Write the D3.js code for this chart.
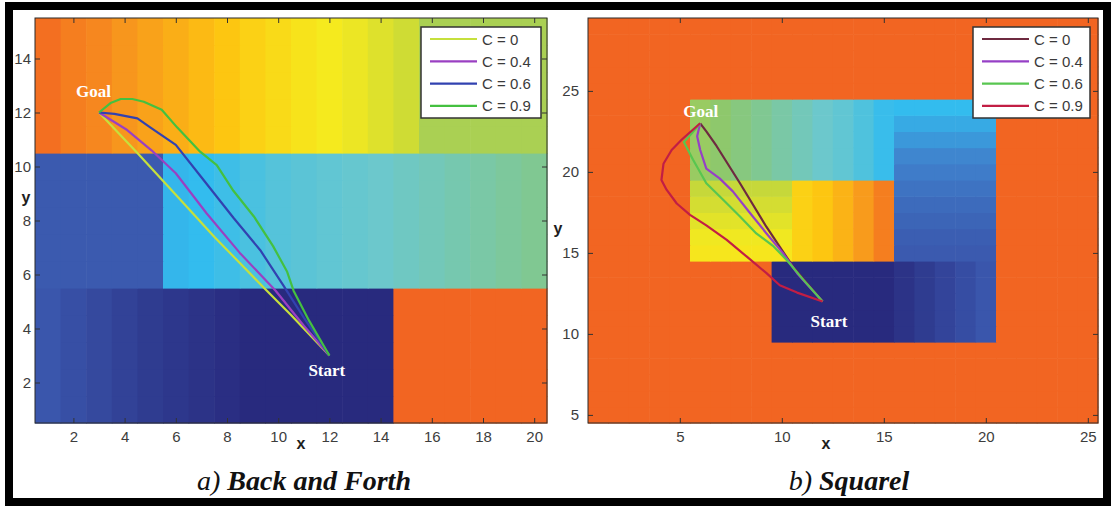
<!DOCTYPE html>
<html>
<head>
<meta charset="utf-8">
<script src="https://cdn.jsdelivr.net/npm/d3@7"></script>
<style>
  body { margin: 0; background: #fff; }
  svg { display: block; }
</style>
</head>
<body>
<svg id="fig" width="1112" height="510"></svg>
<script>
// Colour ramp of the cost maps, low (navy) to high (orange)
const rampStops = ["#282a7e", "#3a56ac", "#4080cc", "#33bcee", "#6cc8cc", "#8ec86c",
                   "#c6d83a", "#f5ea1e", "#fdc611", "#f7961d", "#f26522"];

// ---- a) Back and Forth map: 20 columns x 15 rows in three bands ----
const bfColumns = d3.range(1, 21);
const bfRows = d3.range(1, 16);
const bfUpper  = [0.98, 0.95, 0.93, 0.90, 0.875, 0.85, 0.825, 0.80, 0.77, 0.745,
                  0.72, 0.70, 0.68, 0.65, 0.62, 0.55, 0.55, 0.55, 0.55, 0.55];   // rows 11-15
const bfMiddle = [0.11, 0.11, 0.11, 0.11, 0.11, 0.29, 0.30, 0.32, 0.34, 0.36,
                  0.37, 0.38, 0.39, 0.40, 0.41, 0.42, 0.43, 0.44, 0.45, 0.46];   // rows 6-10
const bfLower  = [0.10, 0.085, 0.07, 0.055, 0.04, 0.03, 0.02, 0.01, 0, 0,
                  0, 0, 0, 0, 1, 1, 1, 1, 1, 1];                                 // rows 1-5

// paths from Start (12,3) to Goal (3,12) for each C
const bfC0  = [[3,12],[4.5,10.5],[6,8.95],[7.5,7.4],[9.45,5.5],[10.5,4.5],[11.5,3.5],[12,3]];
const bfC04 = [[3,12],[4.1,11.35],[5.05,10.6],[6,9.75],[7.2,8.27],[8.5,6.8],[9.9,5.4],[11,4.1],[12,3]];
const bfC06 = [[3,12],[3.6,11.95],[4.5,11.78],[5,11.45],[6,10.8],[7,9.6],[8.25,8.1],[9.3,6.9],[10.2,5.6],[11,4.4],[12,3]];
const bfC09 = [[3,12],[3.45,12.35],[3.85,12.5],[4.3,12.5],[4.75,12.4],[5.45,12.1],[6.05,11.45],[6.95,10.55],
               [7.6,10.05],[8.25,9.1],[9.05,8.15],[9.8,7.05],[10.35,6.1],[10.6,5.4],[11.2,4.3],[12,3]];

// ---- b) Squarel map: 25 columns x rows 5-29 ----
const sqColumns = d3.range(1, 26);
const sqRows = d3.range(5, 30);
const sqOuter  = 1;
const sqTop    = [0.52, 0.50, 0.48, 0.46, 0.44, 0.42, 0.40, 0.38, 0.35, 0.31];          // rows 20-24, cols 6-15
const sqColumn = [0.11, 0.12, 0.135, 0.15, 0.17, 0.19, 0.21, 0.24, 0.27, 0.30];         // cols 16-20, rows 15-24
const sqBottom = [0, 0, 0, 0, 0, 0, 0.02, 0.04, 0.06, 0.08, 0.10];                     // rows 10-14, cols 10-20
const sqYellow = [0.71, 0.69, 0.66, 0.63, 0.60];                                        // cols 6-10, rows 15-19
const sqAmber  = [0.77, 0.80, 0.84, 0.89, 0.95];                                        // cols 11-15, rows 15-19

// paths from Start (12,12) to Goal (6,23) for each C
const sqC0  = [[6,23],[6.3,22.5],[6.8,21.6],[7.95,19.3],[9.25,16.6],[10.55,14.15],[12,12]];
const sqC04 = [[6,23],[5.85,22.2],[6,21.35],[6.3,20.2],[6.95,19.6],[7.6,18.8],[8.45,17.45],[9.25,16.2],[10.05,15],[10.75,13.75],[12,12]];
const sqC06 = [[6,23],[5.6,22.4],[5.2,21.85],[5.65,20.75],[6.3,19.3],[7.15,18.25],[7.95,17.25],[8.75,16.2],[9.6,15.4],[10.25,14.55],[11.05,13.35],[12,12]];
const sqC09 = [[6,23],[5.1,22],[4.6,21.35],[4.2,20.5],[4.1,19.5],[4.35,18.9],[4.85,18.05],[5.5,17.35],[6.3,16.7],
               [7.3,15.8],[8.3,14.75],[9.25,13.75],[9.9,13],[10.75,12.55],[12,12]];

const legendLabels = ["C = 0", "C = 0.4", "C = 0.6", "C = 0.9"];
const bfTicksX = [2, 4, 6, 8, 10, 12, 14, 16, 18, 20];
const bfTicksY = [2, 4, 6, 8, 10, 12, 14];
const sqTicksX = [5, 10, 15, 20, 25];
const sqTicksY = [5, 10, 15, 20, 25];

// ---- cell tables ----
const bfCells = [];
bfRows.forEach(r => bfColumns.forEach((c, i) => {
  const v = r >= 11 ? bfUpper[i] : r >= 6 ? bfMiddle[i] : bfLower[i];
  bfCells.push({ x: c, y: r, v });
}));

const sqCells = [];
sqRows.forEach(r => sqColumns.forEach(c => {
  let v = sqOuter;
  if (r >= 10 && r <= 14 && c >= 10 && c <= 20) v = sqBottom[c - 10];
  if (r >= 15 && r <= 24 && c >= 16 && c <= 20) v = sqColumn[r - 15];
  if (r >= 20 && r <= 24 && c >= 6 && c <= 15) v = sqTop[c - 6];
  if (r >= 15 && r <= 19 && c >= 6 && c <= 10) v = sqYellow[r - 15];
  if (r >= 15 && r <= 19 && c >= 11 && c <= 15) v = sqAmber[c - 11];
  sqCells.push({ x: c, y: r, v });
}));

const ramp = d3.scaleLinear()
  .domain(rampStops.map((_, i) => i / (rampStops.length - 1)))
  .range(rampStops)
  .interpolate(d3.interpolateRgb);

const svg = d3.select("#fig");
const sans = "'Liberation Sans', Arial, sans-serif";
const serif = "'Liberation Serif', 'Times New Roman', serif";

function drawPanel(cfg) {
  const g = svg.append("g");
  const x = d3.scaleLinear().domain(cfg.xDomain).range([cfg.left, cfg.right]);
  const y = d3.scaleLinear().domain(cfg.yDomain).range([cfg.bottom, cfg.top]);

  // cost map cells
  g.append("g").selectAll("rect").data(cfg.cells).join("rect")
    .attr("x", d => x(d.x - 0.5))
    .attr("y", d => y(d.y + 0.5))
    .attr("width", d => x(d.x + 0.5) - x(d.x - 0.5) + 0.6)
    .attr("height", d => y(d.y - 0.5) - y(d.y + 0.5) + 0.6)
    .attr("fill", d => ramp(d.v));

  // clip trajectories to the axes box
  const clipId = "clip-" + cfg.id;
  svg.append("clipPath").attr("id", clipId).append("rect")
    .attr("x", cfg.left).attr("y", cfg.top)
    .attr("width", cfg.right - cfg.left).attr("height", cfg.bottom - cfg.top);

  const line = d3.line().x(d => x(d[0])).y(d => y(d[1]));
  g.append("g").attr("clip-path", `url(#${clipId})`)
    .selectAll("path").data(cfg.series).join("path")
    .attr("d", d => line(d.points))
    .attr("fill", "none")
    .attr("stroke", d => d.color)
    .attr("stroke-width", 2.2)
    .attr("stroke-linejoin", "round");

  // Goal / Start labels
  cfg.marks.forEach(m => {
    g.append("text")
      .attr("x", x(m.at[0]) + m.dx).attr("y", y(m.at[1]) + m.dy)
      .attr("font-family", serif).attr("font-weight", "bold")
      .attr("font-size", 17).attr("fill", "#ffffff")
      .text(m.text);
  });

  // axes with inward ticks on all four sides
  const tl = 5;
  const styleAxis = sel => {
    sel.select(".domain").remove();
    sel.selectAll(".tick line").attr("stroke", "#333");
    sel.selectAll(".tick text").attr("font-family", sans).attr("font-size", 15).attr("fill", "#3d3d3d");
  };
  g.append("g").attr("transform", `translate(0,${cfg.bottom})`)
    .call(d3.axisBottom(x).tickValues(cfg.xTicks).tickSizeInner(-tl).tickSizeOuter(0).tickPadding(8))
    .call(styleAxis);
  g.append("g").attr("transform", `translate(0,${cfg.top})`)
    .call(d3.axisTop(x).tickValues(cfg.xTicks).tickSizeInner(-tl).tickSizeOuter(0).tickFormat(""))
    .call(styleAxis);
  g.append("g").attr("transform", `translate(${cfg.left},0)`)
    .call(d3.axisLeft(y).tickValues(cfg.yTicks).tickSizeInner(-tl).tickSizeOuter(0).tickPadding(cfg.yPad))
    .call(styleAxis);
  g.append("g").attr("transform", `translate(${cfg.right},0)`)
    .call(d3.axisRight(y).tickValues(cfg.yTicks).tickSizeInner(-tl).tickSizeOuter(0).tickFormat(""))
    .call(styleAxis);

  g.append("rect")
    .attr("x", cfg.left).attr("y", cfg.top)
    .attr("width", cfg.right - cfg.left).attr("height", cfg.bottom - cfg.top)
    .attr("fill", "none").attr("stroke", "#2a2a2a").attr("stroke-width", 1);

  // axis titles
  g.append("text").attr("x", cfg.xLabel[0]).attr("y", cfg.xLabel[1])
    .attr("text-anchor", "middle").attr("font-family", sans).attr("font-weight", "bold")
    .attr("font-size", 16).attr("fill", "#1e1e1e").text("x");
  g.append("text").attr("x", cfg.yLabel[0]).attr("y", cfg.yLabel[1])
    .attr("text-anchor", "middle").attr("font-family", sans).attr("font-weight", "bold")
    .attr("font-size", 16).attr("fill", "#1e1e1e").text("y");

  // legend
  const lg = g.append("g").attr("transform", `translate(${cfg.legend[0]},${cfg.legend[1]})`);
  lg.append("rect").attr("width", cfg.legend[2]).attr("height", 91)
    .attr("fill", "#fff").attr("stroke", "#333").attr("stroke-width", 1.5);
  cfg.series.forEach((s, i) => {
    const ly = 12 + i * 22.3;
    lg.append("line").attr("x1", 9).attr("x2", 56).attr("y1", ly).attr("y2", ly)
      .attr("stroke", s.color).attr("stroke-width", 2.2);
    lg.append("text").attr("x", 61).attr("y", ly + 5.5)
      .attr("font-family", sans).attr("font-size", 15).attr("fill", "#3a3a3a")
      .text(legendLabels[i]);
  });

  // caption
  const cap = svg.append("text").attr("x", cfg.caption[0]).attr("y", cfg.caption[1])
    .attr("text-anchor", "middle").attr("font-family", serif).attr("font-style", "italic")
    .attr("font-size", 28).attr("fill", "#111");
  cap.append("tspan").text(cfg.caption[2] + " ");
  cap.append("tspan").attr("font-weight", "bold").text(cfg.caption[3]);
}

drawPanel({
  id: "bf", left: 35, right: 547, top: 18, bottom: 423,
  xDomain: [0.5, 20.5], yDomain: [0.5, 15.5],
  xTicks: bfTicksX, yTicks: bfTicksY, yPad: 4,
  cells: bfCells,
  series: [
    { points: bfC0,  color: "#c6e03c" },
    { points: bfC04, color: "#9a40c2" },
    { points: bfC06, color: "#3242b0" },
    { points: bfC09, color: "#44c040" }
  ],
  marks: [
    { text: "Goal",  at: [3, 12], dx: -23, dy: -16 },
    { text: "Start", at: [12, 3], dx: -21, dy: 20 }
  ],
  legend: [421, 27, 120],
  xLabel: [301, 449], yLabel: [26, 203],
  caption: [304, 490, "a)", "Back and Forth"]
});

drawPanel({
  id: "sq", left: 588, right: 1098, top: 18, bottom: 423,
  xDomain: [0.5, 25.5], yDomain: [4.5, 29.5],
  xTicks: sqTicksX, yTicks: sqTicksY, yPad: 9,
  cells: sqCells,
  series: [
    { points: sqC0,  color: "#6e2a40" },
    { points: sqC04, color: "#9640c6" },
    { points: sqC06, color: "#58c650" },
    { points: sqC09, color: "#c21e44" }
  ],
  marks: [
    { text: "Goal",  at: [6, 23], dx: -17, dy: -6 },
    { text: "Start", at: [12, 12], dx: -12, dy: 25 }
  ],
  legend: [973, 27, 117],
  xLabel: [826, 449], yLabel: [558, 234],
  caption: [849, 490, "b)", "Squarel"]
});

// outer frame
svg.append("rect").attr("x", 9).attr("y", 6).attr("width", 1098).attr("height", 496)
  .attr("fill", "none").attr("stroke", "#000").attr("stroke-width", 8);
</script>
</body>
</html>
